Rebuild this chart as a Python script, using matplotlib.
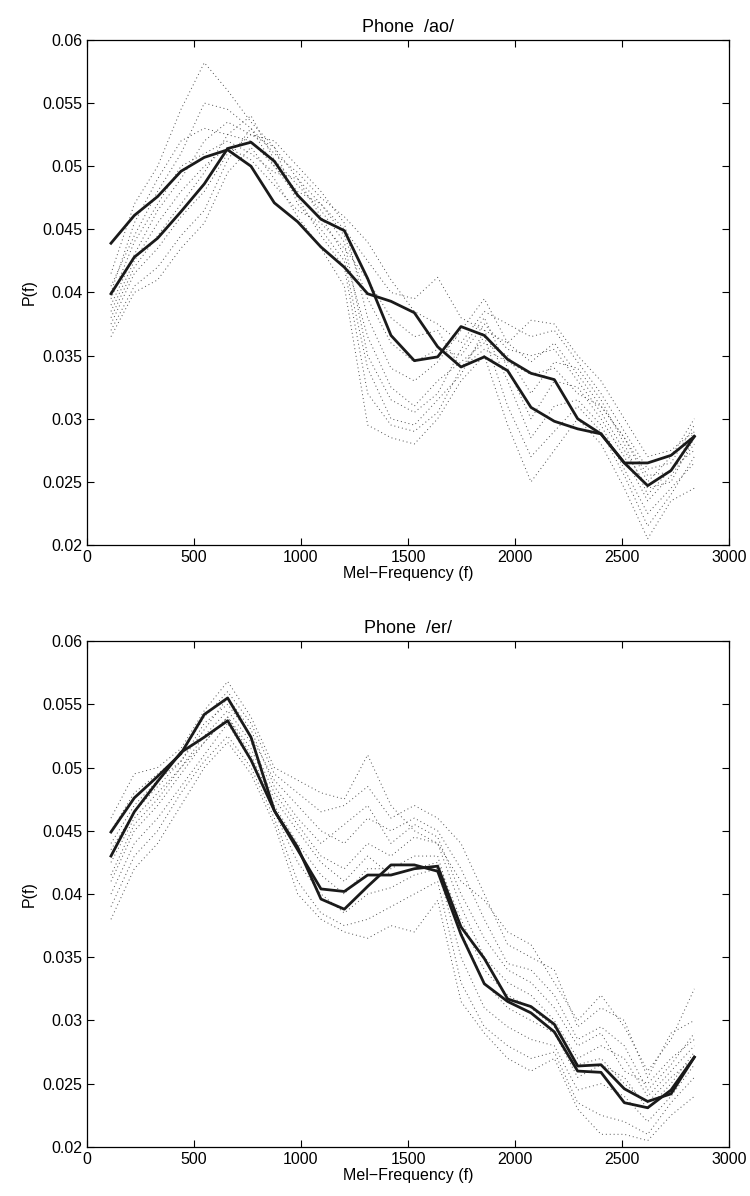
import matplotlib.pyplot as plt
import numpy as np

plt.rcParams['font.family'] = ['Liberation Sans', 'DejaVu Sans']

# mel filter centre frequencies
mel = np.linspace(112, 2838, 26)

# phone /ao/ : two mean spectra and the individual frame spectra
ao_mean1 = [0.0439, 0.0461, 0.0476, 0.0496, 0.0507, 0.0513, 0.0500, 0.0471, 0.0456, 0.0436,
            0.0420, 0.0399, 0.0393, 0.0384, 0.0357, 0.0341, 0.0349, 0.0338, 0.0309, 0.0298,
            0.0292, 0.0288, 0.0265, 0.0265, 0.0271, 0.0286]
ao_mean2 = [0.0399, 0.0428, 0.0443, 0.0464, 0.0486, 0.0514, 0.0519, 0.0504, 0.0477, 0.0458,
            0.0449, 0.0411, 0.0366, 0.0346, 0.0349, 0.0373, 0.0366, 0.0347, 0.0336, 0.0331,
            0.0300, 0.0288, 0.0265, 0.0247, 0.0259, 0.0286]
ao_frames = [
    [0.0415, 0.0470, 0.0500, 0.0545, 0.0582, 0.0560, 0.0535, 0.0515, 0.0490, 0.0470, 0.0450, 0.0425, 0.0400,
     0.0395, 0.0412, 0.0380, 0.0370, 0.0360, 0.0378, 0.0375, 0.0350, 0.0330, 0.0300, 0.0270, 0.0275, 0.0290],
    [0.0405, 0.0445, 0.0480, 0.0510, 0.0550, 0.0545, 0.0530, 0.0510, 0.0495, 0.0475, 0.0460, 0.0440, 0.0410,
     0.0385, 0.0375, 0.0360, 0.0385, 0.0375, 0.0365, 0.0370, 0.0345, 0.0320, 0.0290, 0.0260, 0.0265, 0.0295],
    [0.0390, 0.0430, 0.0465, 0.0490, 0.0520, 0.0535, 0.0525, 0.0520, 0.0500, 0.0480, 0.0455, 0.0380, 0.0340,
     0.0330, 0.0345, 0.0370, 0.0395, 0.0360, 0.0345, 0.0360, 0.0335, 0.0310, 0.0285, 0.0250, 0.0270, 0.0300],
    [0.0380, 0.0420, 0.0445, 0.0470, 0.0495, 0.0525, 0.0540, 0.0505, 0.0485, 0.0465, 0.0440, 0.0350, 0.0315,
     0.0305, 0.0320, 0.0355, 0.0380, 0.0340, 0.0300, 0.0330, 0.0325, 0.0300, 0.0270, 0.0235, 0.0255, 0.0280],
    [0.0370, 0.0405, 0.0420, 0.0445, 0.0465, 0.0505, 0.0530, 0.0500, 0.0475, 0.0445, 0.0420, 0.0320, 0.0295,
     0.0290, 0.0305, 0.0340, 0.0365, 0.0310, 0.0270, 0.0290, 0.0310, 0.0290, 0.0255, 0.0215, 0.0240, 0.0270],
    [0.0365, 0.0400, 0.0410, 0.0435, 0.0455, 0.0495, 0.0515, 0.0490, 0.0460, 0.0435, 0.0405, 0.0295, 0.0285,
     0.0280, 0.0300, 0.0330, 0.0350, 0.0295, 0.0250, 0.0275, 0.0300, 0.0280, 0.0245, 0.0205, 0.0235, 0.0245],
    [0.0395, 0.0440, 0.0470, 0.0500, 0.0510, 0.0520, 0.0510, 0.0495, 0.0490, 0.0460, 0.0430, 0.0365, 0.0325,
     0.0310, 0.0330, 0.0345, 0.0360, 0.0350, 0.0320, 0.0345, 0.0340, 0.0315, 0.0280, 0.0240, 0.0260, 0.0275],
    [0.0400, 0.0455, 0.0490, 0.0520, 0.0530, 0.0525, 0.0520, 0.0500, 0.0480, 0.0470, 0.0445, 0.0395, 0.0360,
     0.0345, 0.0355, 0.0350, 0.0375, 0.0355, 0.0350, 0.0355, 0.0330, 0.0305, 0.0275, 0.0245, 0.0250, 0.0285],
    [0.0375, 0.0415, 0.0435, 0.0460, 0.0480, 0.0510, 0.0525, 0.0515, 0.0470, 0.0450, 0.0425, 0.0340, 0.0300,
     0.0295, 0.0315, 0.0335, 0.0370, 0.0330, 0.0285, 0.0310, 0.0315, 0.0295, 0.0260, 0.0225, 0.0245, 0.0265],
    [0.0385, 0.0425, 0.0455, 0.0480, 0.0500, 0.0515, 0.0505, 0.0485, 0.0465, 0.0455, 0.0435, 0.0410, 0.0380,
     0.0365, 0.0370, 0.0340, 0.0355, 0.0345, 0.0335, 0.0340, 0.0320, 0.0310, 0.0285, 0.0255, 0.0258, 0.0290],
]

# phone /er/
er_mean1 = [0.0449, 0.0476, 0.0493, 0.0511, 0.0542, 0.0555, 0.0524, 0.0466, 0.0435, 0.0404,
            0.0402, 0.0415, 0.0415, 0.0420, 0.0422, 0.0374, 0.0349, 0.0317, 0.0311, 0.0297,
            0.0264, 0.0265, 0.0246, 0.0236, 0.0242, 0.0271]
er_mean2 = [0.0430, 0.0465, 0.0489, 0.0512, 0.0524, 0.0537, 0.0506, 0.0466, 0.0437, 0.0396,
            0.0388, 0.0406, 0.0423, 0.0423, 0.0418, 0.0368, 0.0329, 0.0315, 0.0306, 0.0291,
            0.0260, 0.0259, 0.0235, 0.0231, 0.0245, 0.0271]
er_frames = [
    [0.0460, 0.0495, 0.0500, 0.0515, 0.0545, 0.0568, 0.0540, 0.0500, 0.0490, 0.0480, 0.0475, 0.0510, 0.0470,
     0.0450, 0.0440, 0.0410, 0.0395, 0.0370, 0.0360, 0.0330, 0.0300, 0.0320, 0.0295, 0.0260, 0.0285, 0.0325],
    [0.0450, 0.0480, 0.0495, 0.0510, 0.0540, 0.0560, 0.0535, 0.0495, 0.0480, 0.0465, 0.0470, 0.0485, 0.0460,
     0.0470, 0.0460, 0.0440, 0.0400, 0.0360, 0.0350, 0.0340, 0.0295, 0.0310, 0.0300, 0.0255, 0.0290, 0.0300],
    [0.0440, 0.0470, 0.0490, 0.0505, 0.0535, 0.0550, 0.0525, 0.0490, 0.0470, 0.0450, 0.0440, 0.0460, 0.0450,
     0.0460, 0.0450, 0.0420, 0.0380, 0.0345, 0.0340, 0.0320, 0.0285, 0.0295, 0.0280, 0.0245, 0.0265, 0.0290],
    [0.0425, 0.0460, 0.0480, 0.0500, 0.0525, 0.0545, 0.0520, 0.0480, 0.0455, 0.0430, 0.0420, 0.0440, 0.0430,
     0.0445, 0.0440, 0.0390, 0.0350, 0.0330, 0.0320, 0.0300, 0.0270, 0.0280, 0.0270, 0.0240, 0.0260, 0.0280],
    [0.0410, 0.0450, 0.0470, 0.0495, 0.0520, 0.0540, 0.0510, 0.0470, 0.0440, 0.0415, 0.0400, 0.0420, 0.0420,
     0.0430, 0.0430, 0.0370, 0.0330, 0.0310, 0.0300, 0.0290, 0.0255, 0.0265, 0.0255, 0.0230, 0.0250, 0.0275],
    [0.0400, 0.0440, 0.0460, 0.0485, 0.0510, 0.0535, 0.0505, 0.0465, 0.0425, 0.0400, 0.0385, 0.0400, 0.0405,
     0.0415, 0.0420, 0.0350, 0.0310, 0.0295, 0.0285, 0.0280, 0.0245, 0.0250, 0.0240, 0.0220, 0.0240, 0.0265],
    [0.0390, 0.0430, 0.0450, 0.0480, 0.0505, 0.0525, 0.0500, 0.0460, 0.0410, 0.0385, 0.0375, 0.0380, 0.0390,
     0.0400, 0.0410, 0.0330, 0.0295, 0.0280, 0.0270, 0.0275, 0.0235, 0.0225, 0.0220, 0.0210, 0.0235, 0.0255],
    [0.0380, 0.0420, 0.0440, 0.0470, 0.0500, 0.0520, 0.0495, 0.0455, 0.0400, 0.0380, 0.0370, 0.0365, 0.0375,
     0.0370, 0.0395, 0.0315, 0.0290, 0.0270, 0.0260, 0.0270, 0.0230, 0.0210, 0.0210, 0.0205, 0.0225, 0.0240],
    [0.0435, 0.0465, 0.0485, 0.0505, 0.0530, 0.0555, 0.0530, 0.0485, 0.0460, 0.0440, 0.0455, 0.0470, 0.0440,
     0.0455, 0.0445, 0.0400, 0.0365, 0.0340, 0.0330, 0.0310, 0.0280, 0.0290, 0.0260, 0.0250, 0.0270, 0.0285],
    [0.0415, 0.0455, 0.0475, 0.0500, 0.0520, 0.0540, 0.0515, 0.0475, 0.0450, 0.0425, 0.0410, 0.0430, 0.0415,
     0.0420, 0.0425, 0.0380, 0.0340, 0.0320, 0.0310, 0.0295, 0.0265, 0.0270, 0.0250, 0.0235, 0.0255, 0.0270],
]

yticks = [0.02, 0.025, 0.03, 0.035, 0.04, 0.045, 0.05, 0.055, 0.06]
yticklabels = ['0.02', '0.025', '0.03', '0.035', '0.04', '0.045', '0.05', '0.055', '0.06']
xticks = [0, 500, 1000, 1500, 2000, 2500, 3000]


def phone_plot(ax, frames, mean1, mean2, name):
    for f in frames:
        ax.plot(mel, f, color='0.3', linestyle=(0, (1, 3)), linewidth=0.7)
    ax.plot(mel, mean1, color='#1a1a1a', linewidth=2.0)
    ax.plot(mel, mean2, color='#1a1a1a', linewidth=2.0)

    ax.set_xlim(0, 3000)
    ax.set_ylim(0.02, 0.06)
    ax.set_xticks(xticks)
    ax.set_yticks(yticks)
    ax.set_yticklabels(yticklabels)
    ax.tick_params(direction='in', top=True, right=True, length=5, width=0.8, labelsize=11.5)
    for s in ax.spines.values():
        s.set_linewidth(0.9)
    ax.set_title('Phone  /%s/' % name, fontsize=13, pad=6)
    ax.set_xlabel('Mel\u2212Frequency (f)', fontsize=11.5, labelpad=1)
    ax.set_ylabel('P(f)', fontsize=11.5, labelpad=4)


fig = plt.figure(figsize=(7.5, 11.96), dpi=100)
ax1 = fig.add_axes([0.116, 0.5443, 0.856, 0.4223])
ax2 = fig.add_axes([0.116, 0.041, 0.856, 0.423])

phone_plot(ax1, ao_frames, ao_mean1, ao_mean2, 'ao')
phone_plot(ax2, er_frames, er_mean1, er_mean2, 'er')

fig.savefig('out.png', dpi=100)
